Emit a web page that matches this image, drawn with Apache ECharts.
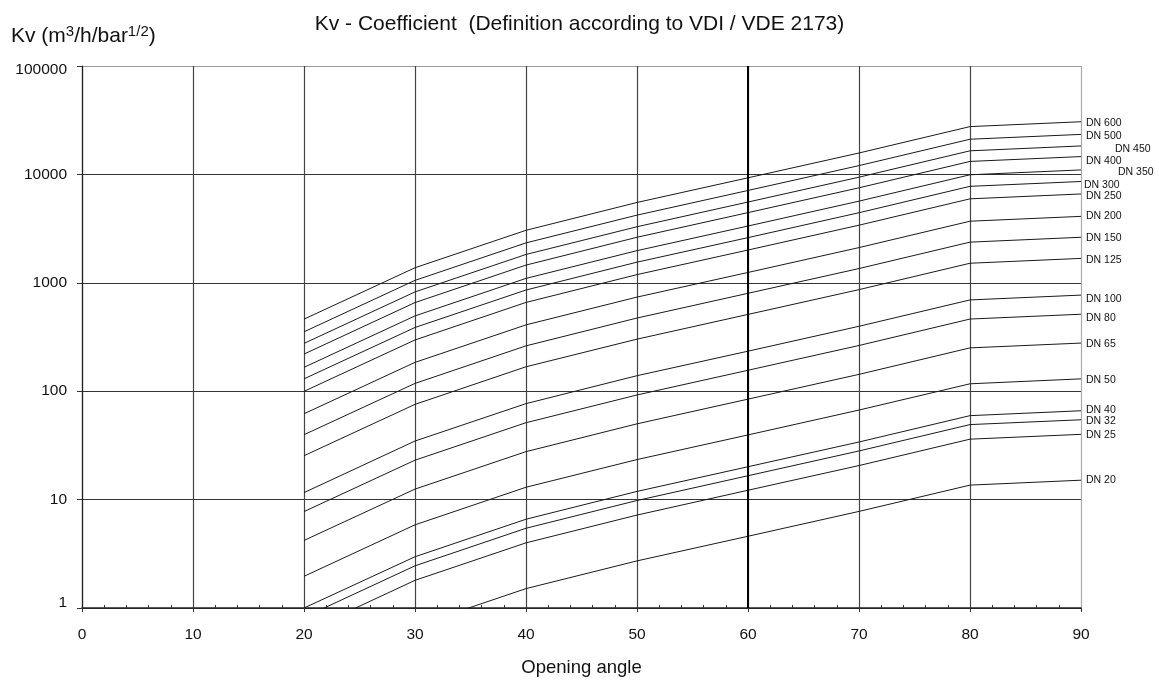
<!DOCTYPE html>
<html><head><meta charset="utf-8">
<script src="https://cdn.jsdelivr.net/npm/echarts@6/dist/echarts.min.js"></script>
<style>html,body{margin:0;padding:0;background:#fff}#c{width:1159px;height:682px}</style>
</head><body><div id="c"></div>
<script>
// ---- data ----
const angles = [20, 30, 40, 50, 60, 70, 80, 90];
const xTicks = [0, 10, 20, 30, 40, 50, 60, 70, 80, 90];
const yTicks = [1, 10, 100, 1000, 10000, 100000];
const seriesNames = ['DN 600','DN 500','DN 450','DN 400','DN 350','DN 300','DN 250','DN 200','DN 150','DN 125','DN 100','DN 80','DN 65','DN 50','DN 40','DN 32','DN 25','DN 20'];
const dn600 = [462, 1377, 3050, 5510, 9300, 15760, 27600, 30600];
const dn500 = [353, 1053, 2335, 4210, 7110, 12050, 21100, 23400];
const dn450 = [276, 824, 1826, 3290, 5560, 9425, 16500, 18300];
const dn400 = [220, 657, 1457, 2630, 4440, 7520, 13170, 14600];
const dn350 = [166, 495, 1098, 1980, 3340, 5665, 9920, 11000];
const dn300 = [130, 387, 858, 1550, 2610, 4430, 7760, 8600];
const dn250 = [99.7, 297, 659, 1190, 2006, 3400, 5950, 6600];
const dn200 = [61.9, 184.5, 409, 738, 1246, 2112, 3700, 4100];
const dn150 = [39.7, 118, 262, 473, 800, 1354, 2372, 2630];
const dn125 = [25.4, 75.6, 168, 302, 511, 865, 1515, 1680];
const dn100 = [11.6, 34.7, 76.8, 139, 234, 397, 695, 770];
const dn80  = [7.75, 23.1, 51.2, 92.3, 156, 264, 463, 513];
const dn65  = [4.2, 12.5, 27.7, 50, 84.5, 143, 251, 278];
const dn50  = [1.96, 5.85, 13.0, 23.4, 39.5, 67, 117, 130];
const dn40  = [1.0, 2.97, 6.59, 11.9, 20.1, 34, 59.5, 66];
const dn32  = [0.82, 2.45, 5.44, 9.81, 16.6, 28.1, 49.2, 54.5];
const dn25  = [0.60, 1.8, 3.99, 7.2, 12.2, 20.6, 36.1, 40];
const dn20  = [0.228, 0.68, 1.51, 2.72, 4.59, 7.78, 13.6, 15.1];
const seriesValues = [dn600, dn500, dn450, dn400, dn350, dn300, dn250, dn200, dn150, dn125, dn100, dn80, dn65, dn50, dn40, dn32, dn25, dn20];

// ---- style: end-label offsets [dx, dy] ----
const labelOffsets = [[0,1.6],[0,1.4],[29,3.3],[0,4.3],[32,2],[-2,3.3],[0,2],[0,0],[0,1.3],[0,1.7],[0,3.6],[0,4.3],[0,1.3],[0,1],[0,-0.7],[0,1.3],[0,0.7],[0,0.3]];

const FONT = '"Liberation Sans", Arial, Helvetica, sans-serif';
const chart = echarts.init(document.getElementById('c'), null, {renderer: 'canvas'});

const series = seriesNames.map((name, si) => {
  const vals = seriesValues[si];
  return {
    name, type: 'line',
    data: angles.map((a, i) => [a, vals[i]]),
    showSymbol: false, symbol: 'none', clip: true, silent: true,
    lineStyle: {color: '#1a1a1a', width: 1},
    endLabel: {
      show: true, distance: 5, offset: labelOffsets[si],
      formatter: name,
      fontFamily: FONT, fontSize: 10.5, color: '#111'
    },
    emphasis: {disabled: true},
    animation: false,
    z: 3
  };
});
// thick vertical grid line at 60 degrees
series.push({
  type: 'line', data: [], silent: true, animation: false,
  markLine: {
    symbol: 'none', silent: true, animation: false,
    label: {show: false},
    lineStyle: {color: '#000', width: 2, type: 'solid'},
    data: [{xAxis: xTicks[6]}]
  }
});

const option = {
  backgroundColor: '#fff',
  animation: false,
  title: [
    {
      text: 'Kv - Coefficient  (Definition according to VDI / VDE 2173)',
      left: 'center', top: 9,
      textStyle: {fontFamily: FONT, fontSize: 21, fontWeight: 'normal', color: '#111'}
    },
    {
      text: 'Kv (m{sup|3}/h/bar{sup|1/2})',
      left: 6, top: 19,
      textStyle: {
        fontFamily: FONT, fontSize: 21, fontWeight: 'normal', color: '#111',
        rich: {sup: {fontFamily: FONT, fontSize: 15, color: '#111', verticalAlign: 'bottom', padding: [0, 0, 9, 0]}}
      }
    }
  ],
  grid: {left: 82, right: 78, top: 66, bottom: 72, containLabel: false},
  xAxis: [
    {
      type: 'value', min: xTicks[0], max: xTicks[xTicks.length - 1], interval: 10,
      name: 'Opening angle', nameLocation: 'middle', nameGap: 50,
      nameTextStyle: {fontFamily: FONT, fontSize: 18.5, color: '#111'},
      axisLine: {show: true, onZero: false, lineStyle: {color: '#222', width: 1.5}},
      axisTick: {show: true, length: 4, lineStyle: {color: '#333'}},
      axisLabel: {fontFamily: FONT, fontSize: 15.5, color: '#111', margin: 19},
      splitLine: {show: true, lineStyle: {color: ['#444','#444','#444','#444','#444','#444','#444','#444','#444','#aaa'], width: 1.2}}
    },
    {
      type: 'value', min: xTicks[0], max: xTicks[xTicks.length - 1], interval: 10,
      position: 'bottom',
      axisLine: {show: false, onZero: false},
      axisTick: {show: false, inside: true},
      minorTick: {show: true, splitNumber: 5, length: 3, lineStyle: {color: '#333'}},
      axisLabel: {show: false},
      splitLine: {show: false}
    }
  ],
  yAxis: {
    type: 'log', logBase: 10, min: yTicks[0], max: yTicks[yTicks.length - 1],
    axisLine: {show: true, lineStyle: {color: '#222', width: 1.2}},
    axisTick: {show: true, length: 5, lineStyle: {color: '#333'}},
    axisLabel: {
      fontFamily: FONT, fontSize: 15.5, color: '#111', margin: 15,
      formatter: v => {
        const n = Math.round(v);
        if (n === yTicks[0]) return '{lo|' + n + '}';
        if (n === yTicks[yTicks.length - 1]) return '{hi|' + n + '}';
        return String(n);
      },
      rich: {
        lo: {fontFamily: FONT, fontSize: 15.5, color: '#111', padding: [0, 0, 10, 0]},
        hi: {fontFamily: FONT, fontSize: 15.5, color: '#111', padding: [8, 0, 0, 0]}
      }
    },
    splitLine: {show: true, lineStyle: {color: ['#333','#333','#333','#333','#333','#999'], width: 1.2}}
  },
  series
};
chart.setOption(option);
</script>
</body></html>
